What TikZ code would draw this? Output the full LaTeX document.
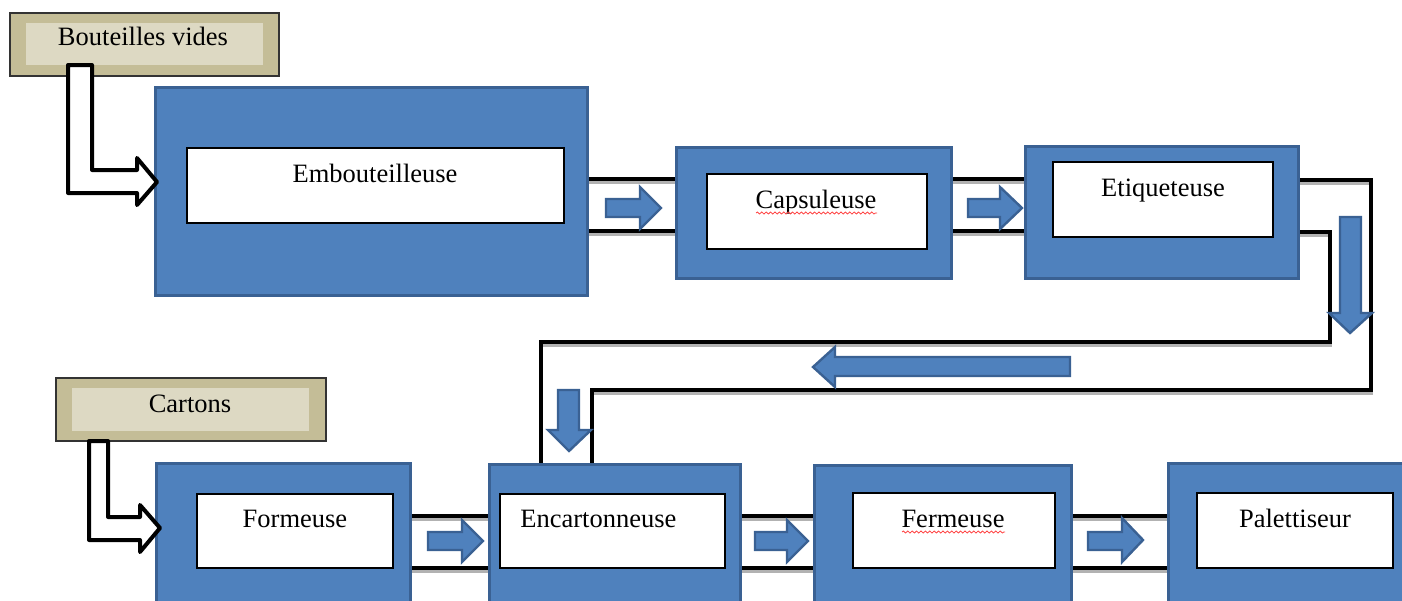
\documentclass[tikz,border=0pt]{standalone}
\usepackage{fontspec}
\setmainfont{Liberation Serif}
\usetikzlibrary{decorations.pathmorphing}
\definecolor{mblue}{HTML}{4F81BD}
\definecolor{mbord}{HTML}{3A6193}
\definecolor{tanout}{HTML}{C4BD97}
\definecolor{tanin}{HTML}{DDD9C3}
\begin{document}
\begin{tikzpicture}[x=0.5pt,y=-0.5pt,
 machine/.style={fill=mblue,draw=mbord,line width=1.5pt},
 inbox/.style={fill=white,draw=black,line width=1pt},
 lab/.style={font=\fontsize{13.25}{15}\selectfont, inner sep=0pt},
 conv/.style={line width=2pt, draw=black},
 convsh/.style={line width=2pt, draw=black!30},
 barrow/.style={fill=mblue,draw=mbord,line width=1.2pt},
 hollow/.style={fill=white,draw=black,line width=2pt,line join=round},
 tag/.style={fill=tanout,draw=black!80,line width=0.8pt},
 taginner/.style={fill=tanin},
 squig/.style={draw=red!75, line width=0.4pt, decorate, decoration={snake,amplitude=0.5pt,segment length=2.2pt}}
]
\useasboundingbox (0,0) rectangle (1402,600);
\clip (0,0) rectangle (1402,600);

% ---------- conveyor lines (shadow then line)
\foreach \s/\st in {3/convsh,0/conv}{
 \begin{scope}[yshift=-\s*0.5pt]
 \draw[\st] (586,179) -- (677,179);
 \draw[\st] (586,231) -- (677,231);
 \draw[\st] (951,179) -- (1026,179);
 \draw[\st] (951,231) -- (1026,231);
 \draw[\st] (1298,180) -- (1371,180) -- (1371,390) -- (592,390) -- (592,465);
 \draw[\st] (1298,232) -- (1330,232) -- (1330,342) -- (541,342) -- (541,465);
 \draw[\st] (410,516) -- (489,516);
 \draw[\st] (410,568) -- (489,568);
 \draw[\st] (740,516) -- (814,516);
 \draw[\st] (740,568) -- (814,568);
 \draw[\st] (1071,516) -- (1168,516);
 \draw[\st] (1071,568) -- (1168,568);
 \end{scope}
}

% ---------- machines
\draw[machine] (155,87) rectangle (587,295);
\draw[inbox] (187,148) rectangle (564,223);
\node[lab,anchor=base] (emb) at (375,182) {Embouteilleuse};

\draw[machine] (676,147) rectangle (951,278);
\draw[inbox] (707,174) rectangle (927,249);
\node[lab,anchor=base] (cap) at (816,208) {Capsuleuse};
\draw[squig] (756,213) -- (877,213);

\draw[machine] (1025,146) rectangle (1298,278);
\draw[inbox] (1053,162) rectangle (1273,237);
\node[lab,anchor=base] (eti) at (1163,196) {Etiqueteuse};

\draw[machine] (156,463) rectangle (410,620);
\draw[inbox] (197,494) rectangle (393,568);
\node[lab,anchor=base] (form) at (295,527) {Formeuse};

\draw[machine] (489,464) rectangle (740,620);
\draw[inbox] (500,494) rectangle (725,568);
\node[lab,anchor=base west] (enc) at (520,527) {Encartonneuse};

\draw[machine] (814,465) rectangle (1071,620);
\draw[inbox] (853,493) rectangle (1055,568);
\node[lab,anchor=base] (ferm) at (953,527) {Fermeuse};
\draw[squig] (902,532) -- (1005,532);

\draw[machine] (1168,463) rectangle (1420,620);
\draw[inbox] (1197,493) rectangle (1393,568);
\node[lab,anchor=base] (pal) at (1295,527) {Palettiseur};

% ---------- input tags
\draw[tag] (10,13) rectangle (279,76);
\fill[taginner] (26,23) rectangle (263,65);
\node[lab,anchor=base] (bv) at (143,45) {Bouteilles vides};

\draw[tag] (56,378) rectangle (326,441);
\fill[taginner] (72,388) rectangle (309,431);
\node[lab,anchor=base] (cart) at (190,412) {Cartons};

% ---------- hollow arrows
\draw[hollow] (68,65) -- (68,193) -- (137,193) -- (137,205) -- (157,182) -- (137,158) -- (137,170) -- (92,170) -- (92,65) -- cycle;
\draw[hollow] (89,441) -- (89,540) -- (140,540) -- (140,552) -- (160,528) -- (140,505) -- (140,517) -- (108,517) -- (108,441) -- cycle;

% ---------- blue arrows
\draw[barrow] (606,199) -- (640,199) -- (640,187) -- (661,208) -- (640,229) -- (640,217) -- (606,217) -- cycle;
\draw[barrow] (968,199) -- (1000,199) -- (1000,187) -- (1022,208) -- (1000,229) -- (1000,217) -- (968,217) -- cycle;
\draw[barrow] (1340,217) -- (1361,217) -- (1361,313) -- (1372,313) -- (1350,333) -- (1329,313) -- (1340,313) -- cycle;
\draw[barrow] (1070,357) -- (835,357) -- (835,347) -- (813,367) -- (835,387) -- (835,376) -- (1070,376) -- cycle;
\draw[barrow] (558,390) -- (579,390) -- (579,430) -- (591,430) -- (569,451) -- (548,430) -- (558,430) -- cycle;
\draw[barrow] (428,532) -- (462,532) -- (462,520) -- (483,541) -- (462,562) -- (462,550) -- (428,550) -- cycle;
\draw[barrow] (755,532) -- (787,532) -- (787,520) -- (808,541) -- (787,562) -- (787,550) -- (755,550) -- cycle;
\draw[barrow] (1088,532) -- (1122,532) -- (1122,518) -- (1143,540) -- (1122,562) -- (1122,550) -- (1088,550) -- cycle;
\end{tikzpicture}
\end{document}
